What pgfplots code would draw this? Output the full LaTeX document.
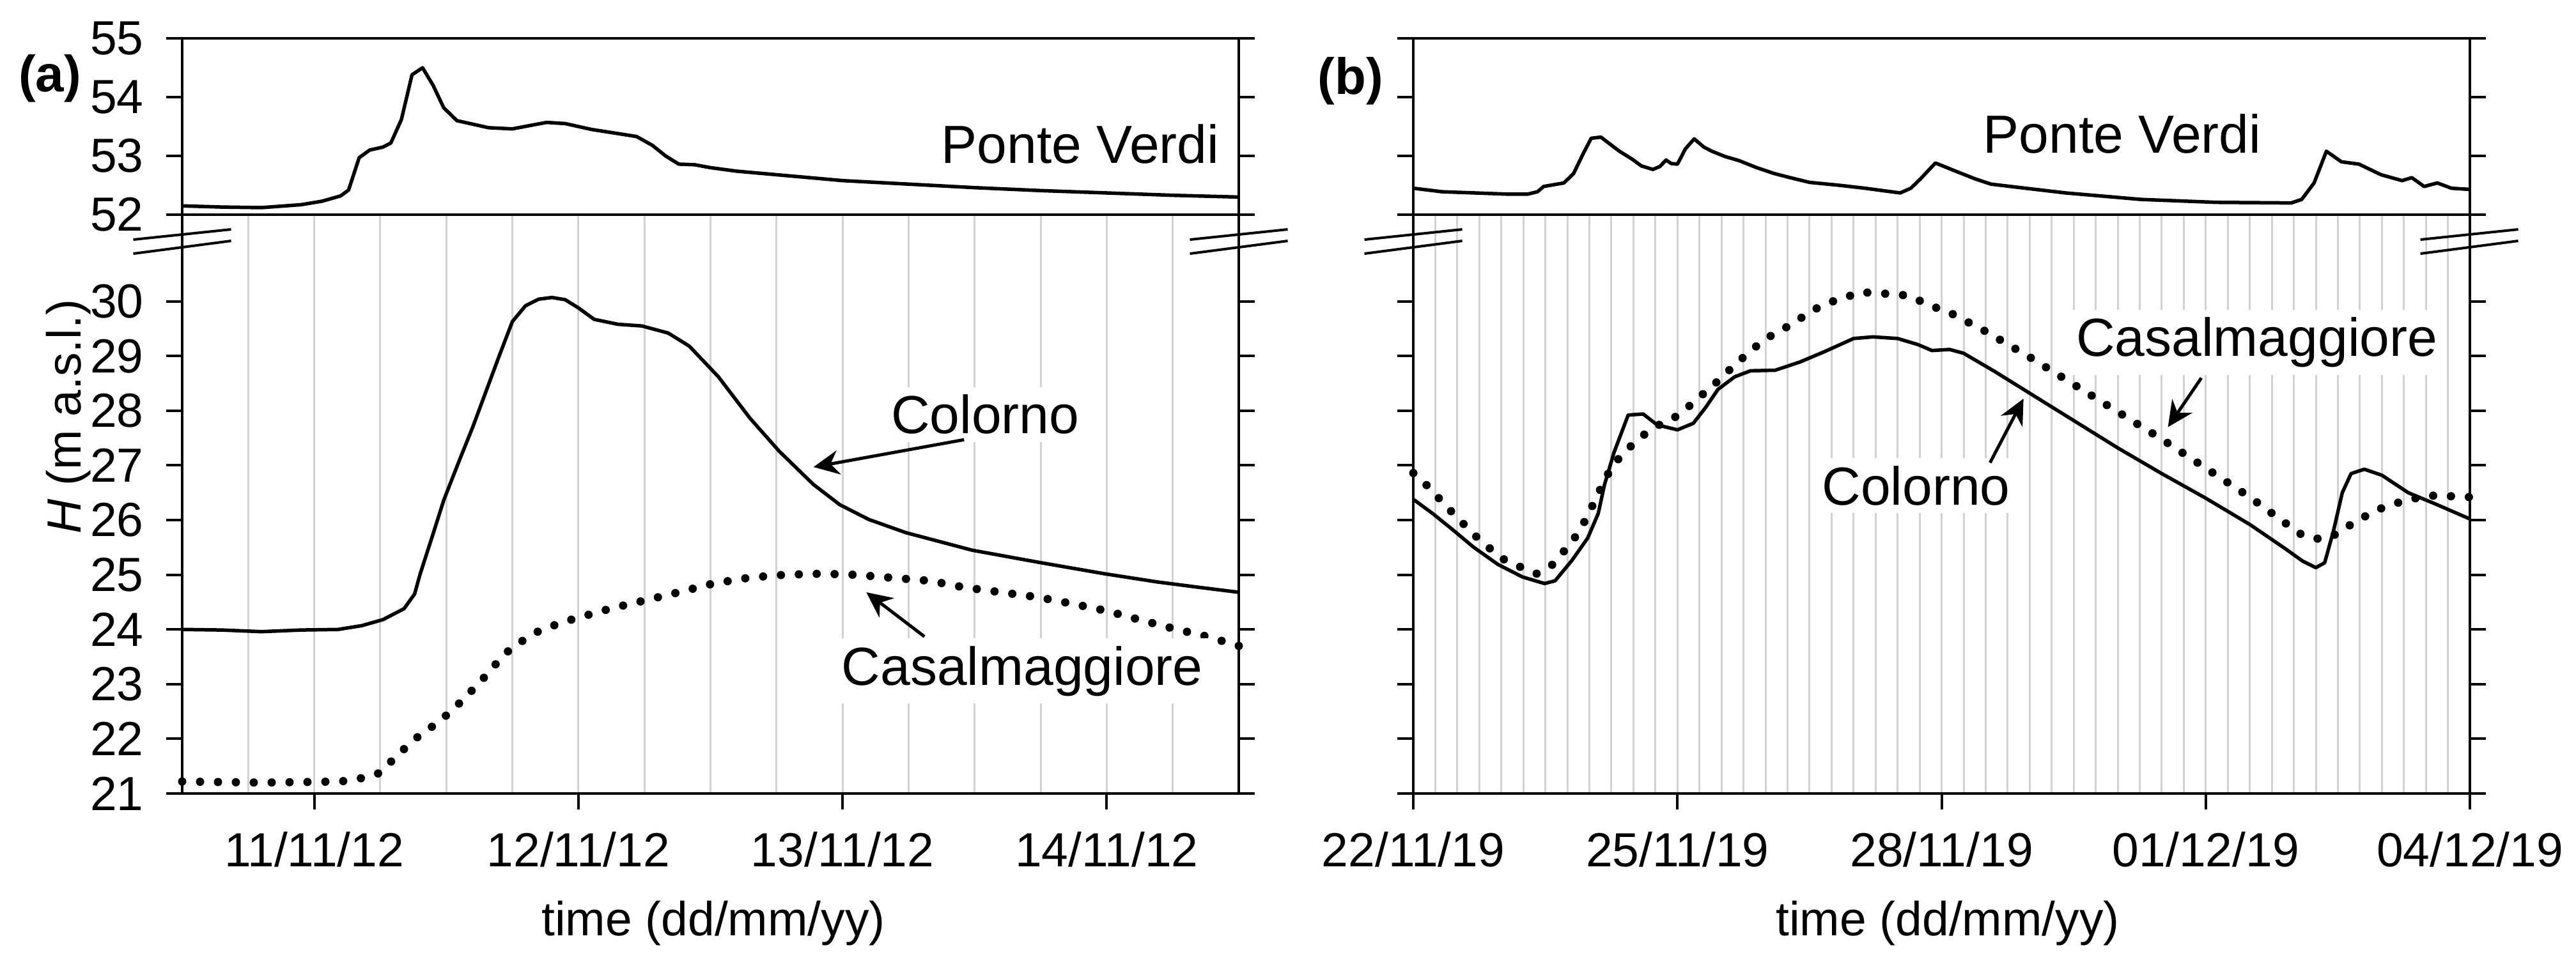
\documentclass[border=0pt]{standalone}
\usepackage{fontspec}
\setmainfont{Liberation Sans}
\usepackage{pgfplots}
\pgfplotsset{compat=1.18}
\usetikzlibrary{arrows.meta}
\definecolor{gridgray}{HTML}{D2D2D2}

\pgfplotstableread{
d H
0.50 52.15
0.65 52.13
0.80 52.12
0.95 52.17
1.03 52.23
1.10 52.32
1.13 52.42
1.17 52.97
1.21 53.10
1.26 53.15
1.29 53.22
1.33 53.62
1.37 54.38
1.41 54.50
1.45 54.20
1.49 53.82
1.54 53.60
1.66 53.48
1.75 53.46
1.82 53.52
1.88 53.57
1.95 53.55
2.05 53.45
2.15 53.38
2.22 53.33
2.28 53.18
2.33 53.00
2.38 52.86
2.44 52.85
2.50 52.80
2.60 52.74
2.75 52.68
3.00 52.58
3.25 52.52
3.50 52.46
3.75 52.41
4.00 52.37
4.25 52.33
4.50 52.30
}\pvA

\pgfplotstableread{
d H
0.50 24.00
0.65 23.99
0.80 23.96
0.95 23.99
1.09 24.00
1.18 24.07
1.26 24.18
1.34 24.38
1.38 24.65
1.40 25.00
1.45 25.75
1.49 26.36
1.55 27.10
1.60 27.70
1.65 28.35
1.70 29.00
1.75 29.63
1.80 29.92
1.85 30.04
1.90 30.07
1.95 30.03
2.00 29.88
2.06 29.67
2.15 29.58
2.24 29.55
2.34 29.42
2.42 29.18
2.53 28.62
2.65 27.86
2.76 27.26
2.89 26.65
2.99 26.28
3.10 26.01
3.24 25.77
3.49 25.45
3.74 25.23
3.99 25.02
4.19 24.87
4.35 24.77
4.50 24.68
}\coA

\pgfplotstableread{
d H
0.50 21.22
0.80 21.20
1.10 21.22
1.19 21.29
1.25 21.38
1.30 21.63
1.35 21.86
1.40 22.07
1.46 22.27
1.51 22.47
1.56 22.70
1.61 22.95
1.66 23.21
1.70 23.44
1.75 23.68
1.86 24.00
1.98 24.19
2.12 24.38
2.25 24.53
2.38 24.68
2.51 24.84
2.65 24.95
2.78 25.00
2.92 25.02
3.05 25.00
3.20 24.94
3.33 24.89
3.46 24.77
3.60 24.68
3.74 24.59
3.87 24.47
4.00 24.34
4.13 24.17
4.25 24.02
4.38 23.87
4.50 23.70
}\caA

\pgfplotstableread{
d H
0.00 52.45
0.33 52.39
0.70 52.37
1.07 52.35
1.30 52.35
1.41 52.39
1.48 52.48
1.71 52.54
1.82 52.70
1.93 53.04
2.02 53.30
2.13 53.32
2.34 53.08
2.48 52.95
2.59 52.83
2.72 52.77
2.80 52.82
2.87 52.93
2.93 52.87
3.00 52.86
3.09 53.12
3.19 53.29
3.30 53.15
3.39 53.08
3.54 52.99
3.70 52.92
3.90 52.80
4.10 52.70
4.28 52.63
4.50 52.55
4.84 52.50
5.13 52.45
5.53 52.37
5.65 52.45
5.76 52.61
5.93 52.88
6.16 52.74
6.38 52.61
6.56 52.52
6.84 52.47
7.41 52.37
8.26 52.26
9.12 52.21
9.97 52.20
10.09 52.26
10.23 52.54
10.37 53.08
10.54 52.90
10.74 52.86
10.99 52.68
11.23 52.58
11.34 52.63
11.48 52.48
11.63 52.54
11.79 52.45
12.00 52.43
}\pvB

\pgfplotstableread{
d H
0.00 26.38
0.22 26.12
0.45 25.82
0.68 25.51
0.96 25.19
1.24 24.96
1.49 24.84
1.61 24.89
1.80 25.26
1.98 25.67
2.10 26.12
2.17 26.64
2.28 27.24
2.44 27.92
2.61 27.94
2.77 27.74
3.00 27.65
3.18 27.77
3.32 28.06
3.46 28.39
3.65 28.62
3.83 28.73
4.11 28.74
4.39 28.89
4.67 29.08
5.00 29.32
5.22 29.35
5.50 29.32
5.73 29.21
5.89 29.10
6.09 29.12
6.25 29.05
6.60 28.72
7.00 28.32
7.50 27.82
8.00 27.32
8.50 26.85
9.00 26.40
9.50 25.92
9.90 25.48
10.10 25.25
10.25 25.13
10.35 25.22
10.45 25.80
10.55 26.50
10.65 26.85
10.80 26.93
11.00 26.82
11.30 26.50
11.60 26.30
12.00 26.02
}\coB

\pgfplotstableread{
d H
0.00 26.86
0.15 26.64
0.29 26.40
0.43 26.16
0.57 25.93
0.72 25.69
0.87 25.48
1.03 25.28
1.22 25.14
1.40 25.02
1.57 25.17
1.70 25.41
1.83 25.67
1.94 25.96
2.03 26.25
2.12 26.55
2.21 26.84
2.33 27.12
2.47 27.35
2.62 27.56
2.79 27.74
2.98 27.89
3.13 28.08
3.28 28.29
3.43 28.50
3.58 28.73
3.73 28.95
3.88 29.16
4.04 29.35
4.20 29.49
4.37 29.66
4.54 29.84
4.71 29.97
4.90 30.07
5.09 30.17
5.29 30.14
5.49 30.14
5.68 30.07
5.86 29.92
6.05 29.83
6.50 29.45
7.00 28.98
7.50 28.48
8.00 27.98
8.50 27.48
9.00 26.95
9.50 26.42
9.90 25.95
10.10 25.72
10.30 25.65
10.50 25.75
10.70 25.98
11.00 26.22
11.30 26.38
11.60 26.45
12.00 26.42
}\caB

\tikzset{
  lbl/.style={font=\fontsize{8.4}{10}\selectfont, fill=white, inner sep=1.2pt},
  arr/.style={-{Stealth[length=4pt,width=3.8pt,inset=1.3pt]}, line width=0.5pt, black},
  solidline/.style={black, line width=0.55pt, line join=round},
  dotline/.style={black, line width=1.3pt, line cap=round, dash pattern=on 0pt off 2.8pt},
}

\pgfplotsset{
  base/.style={
    scale only axis,
    width=165.3pt,
    axis line style={line width=0.4pt},
    every tick/.style={line width=0.4pt, black},
    major tick length=2.5pt,
    minor tick length=0pt,
    tick align=outside,
    grid style={gridgray, line width=0.3pt},
    xminorgrids, xmajorgrids,
    ytick pos=both,
    xtick pos=left,
    tick label style={font=\fontsize{7.5}{9}\selectfont},
    /pgf/number format/assume math mode=true,
    clip=false,
  },
  upper/.style={
    base, height=27.6pt, ymin=52, ymax=55, ytick={52,53,54,55},
    xtick=\empty,
  },
  lower/.style={
    base, height=90.6pt, ymin=21, ymax=31.584,
    ytick={21,22,...,30},
  },
}

\begin{document}
\begin{tikzpicture}
\useasboundingbox (0,0) rectangle (403pt,151.1pt);

% ---------- panel (a) ----------
\begin{axis}[upper, at={(28.5pt,117.5pt)}, anchor=south west,
  xmin=0.5, xmax=4.5, minor xtick={0.5,0.75,...,4.5},
  yticklabel pos=left]
  \addplot[solidline] table[x=d,y=H] {\pvA};
  \node[lbl] at (axis cs:3.9,53.2) {Ponte Verdi};
\end{axis}

\begin{axis}[lower, at={(28.5pt,26.9pt)}, anchor=south west,
  xmin=0.5, xmax=4.5, minor xtick={0.5,0.75,...,4.5},
  xtick={1,2,3,4}, xticklabels={11/11/12,12/11/12,13/11/12,14/11/12},
  yticklabel pos=left]
  \addplot[solidline] table[x=d,y=H] {\coA};
  \addplot[dotline] table[x=d,y=H] {\caA};
  \node[lbl] at (axis cs:3.54,27.93) {Colorno};
  \draw[arr] (axis cs:3.46,27.47) -- (axis cs:2.89,26.97);
  \node[lbl] at (axis cs:3.68,23.24) {Casalmaggiore};
  \draw[arr] (axis cs:3.31,23.87) -- (axis cs:3.09,24.68);
\end{axis}

% ---------- panel (b) ----------
\begin{axis}[upper, at={(221.1pt,117.5pt)}, anchor=south west,
  xmin=0, xmax=12, minor xtick={0,0.25,...,12},
  yticklabels={}]
  \addplot[solidline] table[x=d,y=H] {\pvB};
  \node[lbl] at (axis cs:8.05,53.38) {Ponte Verdi};
\end{axis}

\begin{axis}[lower, at={(221.1pt,26.9pt)}, anchor=south west,
  xmin=0, xmax=12, minor xtick={0,0.25,...,12},
  xtick={0,3,6,9,12}, xticklabels={22/11/19,25/11/19,28/11/19,01/12/19,04/12/19},
  yticklabels={}]
  \addplot[solidline] table[x=d,y=H] {\coB};
  \addplot[dotline] table[x=d,y=H] {\caB};
  \node[lbl] at (axis cs:5.71,26.63) {Colorno};
  \draw[arr] (axis cs:6.55,27.05) -- (axis cs:6.93,28.22);
  \node[lbl] at (axis cs:9.58,29.25) {Casalmaggiore};
  \draw[arr] (axis cs:8.95,28.6) -- (axis cs:8.57,27.7);
\end{axis}

% ---------- break marks ----------
\foreach \cx in {28.5,193.8,221.1,386.3}{
  \draw[line width=0.4pt] (\cx pt-7.65pt,113.6pt) -- (\cx pt+7.65pt,115.2pt);
  \draw[line width=0.4pt] (\cx pt-7.65pt,111.4pt) -- (\cx pt+7.65pt,113.4pt);
}

% ---------- labels ----------
\node[font=\bfseries\fontsize{8}{10}\selectfont] at (7.8pt,138.8pt) {(a)};
\node[font=\bfseries\fontsize{8}{10}\selectfont] at (211.3pt,138.4pt) {(b)};
\node[rotate=90, font=\fontsize{7.5}{9}\selectfont] at (10.7pt,85.9pt) {\textit{H} (m a.s.l.)};
\node[font=\fontsize{7.5}{9}\selectfont] at (111.6pt,6.6pt) {time (dd/mm/yy)};
\node[font=\fontsize{7.5}{9}\selectfont] at (304.7pt,6.6pt) {time (dd/mm/yy)};
\end{tikzpicture}
\end{document}
